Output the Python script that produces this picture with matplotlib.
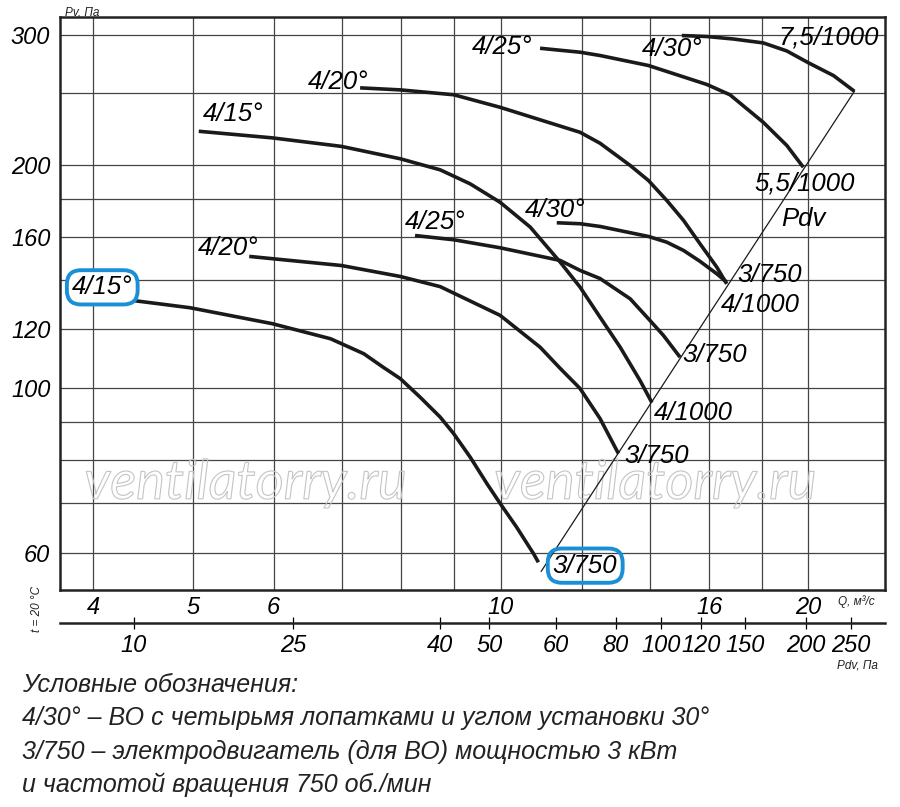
import matplotlib
matplotlib.use("Agg")
import matplotlib.pyplot as plt
import matplotlib.patheffects as pe

plt.rcParams['font.family'] = ['Liberation Sans', 'DejaVu Sans']

# ---- data (Q in m3/s, Pv in Pa) ----
q_a = [4.15, 4.375, 4.97, 5.98, 6.82, 7.35, 7.68, 7.98, 8.34, 8.73, 9.00, 9.34, 9.70,
       9.99, 10.37, 10.77, 10.89]
p_a = [130.7, 131.3, 128.4, 122.2, 116.6, 111.3, 106.7, 103.0, 97.3, 91.4, 86.8, 80.7, 74.3,
       69.9, 64.9, 59.8, 58.2]

q_b = [5.07, 5.98, 6.99, 7.98, 8.73, 9.34, 9.99, 10.69, 11.44, 11.96, 12.51, 13.09, 13.69, 14.06]
p_b = [222.2, 217.7, 212.0, 204.0, 197.1, 188.7, 178.2, 165.0, 147.9, 136.9, 124.7, 113.6, 102.4, 95.6]

q_c = [5.68, 6.99, 7.98, 8.73, 9.99, 10.93, 11.44, 11.96, 12.51, 13.04]
p_c = [150.6, 146.4, 141.5, 137.1, 125.4, 113.6, 106.3, 99.9, 91.0, 81.6]

q_d = [7.29, 7.98, 9.00, 9.99, 11.96, 12.51, 13.39, 13.95, 14.54, 15.10, 15.67, 16.27, 16.64]
p_d = [254.3, 252.7, 248.9, 239.4, 221.5, 214.1, 199.8, 190.7, 179.2, 168.4, 156.6, 145.7, 138.3]

q_e = [8.25, 9.00, 9.99, 11.44, 11.96, 12.51, 13.39, 14.00, 14.43, 14.98]
p_e = [160.7, 158.6, 154.7, 148.7, 144.2, 140.6, 132.0, 123.4, 117.8, 110.1]

q_f = [11.35, 11.96, 12.51, 13.96, 14.54, 15.10, 15.67, 16.27, 16.64]
p_f = [167.2, 166.7, 165.3, 160.2, 157.4, 153.4, 148.3, 142.7, 139.0]

q_g = [10.93, 11.96, 12.51, 13.95, 15.91, 16.76, 18.07, 19.05, 19.77]
p_g = [287.6, 284.1, 281.2, 272.6, 257.0, 248.9, 228.4, 212.6, 198.7]

q_h = [15.04, 15.91, 16.89, 18.07, 19.05, 20.00, 21.16, 22.18]
p_h = [299.2, 298.3, 296.0, 292.4, 285.2, 274.9, 264.2, 251.6]

q_pdv = [10.96, 22.18]
p_pdv = [56.6, 251.6]

y_grid = [60, 70, 80, 90, 100, 120, 140, 160, 180, 200, 250, 300]
y_labels = [60, 100, 120, 160, 200, 300]
x_grid = [4, 5, 6, 7, 8, 9, 10, 12, 14, 16, 18, 20]
x_labels = [4, 5, 6, 10, 16, 20]
pdv_labels = [10, 25, 40, 50, 60, 80, 100, 120, 150, 200, 250]
pdv_at_q = [4.38, 6.27, 8.73, 9.75, 11.33, 12.96, 14.35, 15.70, 17.35, 19.87, 22.01]

legend_lines = [
    "Условные обозначения:",
    "4/30° – ВО с четырьмя лопатками и углом установки 30°",
    "3/750 – электродвигатель (для ВО) мощностью 3 кВт",
    "и частотой вращения 750 об./мин",
]

fig = plt.figure(figsize=(9, 8.07), dpi=100)
ax = fig.add_axes([0.0667, 0.2689, 0.9166, 0.7101])
ax.set_xscale('log')
ax.set_yscale('log')
ax.set_xlim(3.71, 23.76)
ax.set_ylim(53.4, 317)

for v in y_grid:
    ax.axhline(v, color='#444444', lw=0.9, zorder=1)
for v in x_grid:
    ax.axvline(v, color='#444444', lw=0.9, zorder=1)

ax.minorticks_off()
ax.set_yticks(y_labels)
ax.set_yticklabels([str(v) for v in y_labels], fontsize=17, style='italic')
ax.set_xticks(x_labels)
ax.set_xticklabels([str(v) for v in x_labels], fontsize=17, style='italic')
ax.tick_params(length=0, pad=4)
ax.tick_params(axis='y', pad=7)
for s in ax.spines.values():
    s.set_linewidth(1.8)
    s.set_color('#222222')

curve_kw = dict(color='#1a1a1a', lw=2.6, zorder=3, solid_capstyle='butt', solid_joinstyle='round')
for qs, ps in [(q_a, p_a), (q_b, p_b), (q_c, p_c), (q_d, p_d),
               (q_e, p_e), (q_f, p_f), (q_g, p_g), (q_h, p_h)]:
    ax.plot(qs, ps, **curve_kw)
ax.plot(q_pdv, p_pdv, color='#1a1a1a', lw=0.9, zorder=3)

# watermark
for qx in (5.63, 14.16):
    ax.text(qx, 74.4, "ventilatorry.ru", fontsize=39, family='Lato', style='italic',
            color='none', ha='center', va='center', zorder=2,
            path_effects=[pe.Stroke(linewidth=0.8, foreground='#c4c4c4')])

lab = dict(fontsize=18.5, style='italic', ha='center', va='center', zorder=5)
ax.text(4.08, 136.8, "4/15°", bbox=dict(boxstyle='round,pad=0.2,rounding_size=0.55',
        fc='white', ec='#1a8fd6', lw=2.8), **lab)
ax.text(5.42, 154.4, "4/20°", **lab)
ax.text(8.63, 167.4, "4/25°", **lab)
ax.text(11.31, 173.7, "4/30°", **lab)
ax.text(5.48, 234.8, "4/15°", **lab)
ax.text(6.94, 258.6, "4/20°", **lab)
ax.text(10.04, 288.3, "4/25°", **lab)
ax.text(14.71, 287.3, "4/30°", **lab)
ax.text(20.91, 297.4, "7,5/1000", **lab)
ax.text(19.84, 188.9, "5,5/1000", **lab)
ax.text(19.76, 169.4, "Pdv", **lab)
ax.text(18.34, 142.0, "3/750", **lab)
ax.text(17.94, 129.3, "4/1000", **lab)
ax.text(16.21, 110.7, "3/750", **lab)
ax.text(15.43, 92.7, "4/1000", **lab)
ax.text(14.22, 81.1, "3/750", **lab)
ax.text(12.10, 57.6, "3/750", bbox=dict(boxstyle='round,pad=0.2,rounding_size=0.55',
        fc='none', ec='#1a8fd6', lw=2.8), **lab)

# dynamic pressure scale under the chart
ax2 = fig.add_axes([0.0667, 0.2276, 0.9166, 0.0001])
ax2.set_xscale('log')
ax2.set_xlim(3.71, 23.76)
ax2.set_yticks([])
for k in ('top', 'left', 'right'):
    ax2.spines[k].set_visible(False)
ax2.spines['bottom'].set_linewidth(1.8)
ax2.spines['bottom'].set_color('#222222')
ax2.minorticks_off()
ax2.set_xticks(pdv_at_q)
ax2.set_xticklabels([str(v) for v in pdv_labels], fontsize=17, style='italic')
ax2.tick_params(axis='x', direction='inout', length=8, width=0.9, pad=4)
ax2.patch.set_visible(False)

small = dict(fontsize=8.5, style='italic', color='#222222')
fig.text(0.091, 0.985, "Pv, Па", ha='center', va='center', **small)
fig.text(0.931, 0.255, "Q, м³/с", ha='left', va='center', **small)
fig.text(0.953, 0.175, "Pdv, Па", ha='center', va='center', **small)
fig.text(0.041, 0.245, "t = 20 °C", ha='center', va='center', rotation=90, **small)

for i, line in enumerate(legend_lines):
    fig.text(0.0244, 0.1512 - i * 0.0413, line, fontsize=18, style='italic',
             family=['Liberation Sans Narrow', 'Liberation Sans'],
             ha='left', va='center', color='#222222')

fig.savefig('out.png', dpi=100)
